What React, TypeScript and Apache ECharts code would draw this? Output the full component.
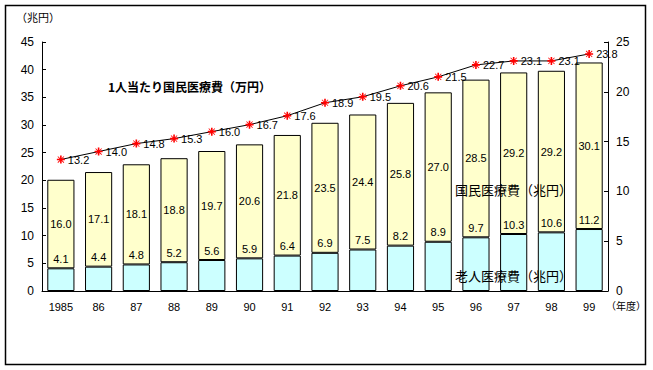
import React, { useEffect, useRef } from "react";
import * as echarts from "echarts";

const years = ["1985", "86", "87", "88", "89", "90", "91", "92", "93", "94", "95", "96", "97", "98", "99"];
const elderly = [4.1, 4.4, 4.8, 5.2, 5.6, 5.9, 6.4, 6.9, 7.5, 8.2, 8.9, 9.7, 10.3, 10.6, 11.2];
const national = [16.0, 17.1, 18.1, 18.8, 19.7, 20.6, 21.8, 23.5, 24.4, 25.8, 27.0, 28.5, 29.2, 29.2, 30.1];
const perCapita = [13.2, 14.0, 14.8, 15.3, 16.0, 16.7, 17.6, 18.9, 19.5, 20.6, 21.5, 22.7, 23.1, 23.1, 23.8];

const ASTERISK =
  "path://M0 4 L10 4 L10 6 L0 6 Z M4 0 L6 0 L6 10 L4 10 Z M1.5 0.8 L9.2 8.5 L8.5 9.2 L0.8 1.5 Z M8.5 0.8 L9.2 1.5 L1.5 9.2 L0.8 8.5 Z";

const NUM_FONT = "'Liberation Sans', Arial, sans-serif";
const JP_FONT = "'Noto Sans CJK JP', sans-serif";

export default function App() {
  const ref = useRef<HTMLDivElement>(null);
  useEffect(() => {
    document.body.style.margin = "0";
    const chart = echarts.init(ref.current!, null, { renderer: "svg" });
    const fmt = (p: any) => Number(p.value).toFixed(1);
    chart.setOption({
      animation: false,
      backgroundColor: "#fff",
      grid: { left: 42, right: 45, top: 42, bottom: 79 },
      xAxis: {
        type: "category",
        data: years,
        axisLine: { lineStyle: { color: "#000", width: 1 } },
        axisTick: { inside: true, length: 3, lineStyle: { color: "#000" } },
        axisLabel: { color: "#000", fontFamily: NUM_FONT, fontSize: 11, margin: 10 },
      },
      yAxis: [
        {
          type: "value",
          min: 0,
          max: 45,
          interval: 5,
          splitLine: { show: false },
          axisLine: { show: true, lineStyle: { color: "#000" } },
          axisTick: { show: true, inside: true, length: 4, lineStyle: { color: "#000" } },
          axisLabel: { color: "#000", fontFamily: NUM_FONT, fontSize: 12, margin: 8 },
        },
        {
          type: "value",
          min: 0,
          max: 25,
          interval: 5,
          position: "right",
          splitLine: { show: false },
          axisLine: { show: true, lineStyle: { color: "#000" } },
          axisTick: { show: true, inside: true, length: 4, lineStyle: { color: "#000" } },
          axisLabel: { color: "#000", fontFamily: NUM_FONT, fontSize: 12, margin: 8 },
        },
      ],
      series: [
        {
          name: "老人医療費",
          type: "bar",
          stack: "total",
          data: elderly,
          barCategoryGap: "28%",
          itemStyle: { color: "#CCFFFF", borderColor: "#000", borderWidth: 1 },
          label: {
            show: true,
            position: "top",
            distance: 4,
            formatter: fmt,
            color: "#000",
            fontFamily: NUM_FONT,
            fontSize: 11,
          },
        },
        {
          name: "国民医療費",
          type: "bar",
          stack: "total",
          data: national,
          itemStyle: { color: "#FFFFCC", borderColor: "#000", borderWidth: 1 },
          label: {
            show: true,
            position: "inside",
            formatter: fmt,
            color: "#000",
            fontFamily: NUM_FONT,
            fontSize: 11,
          },
        },
        {
          name: "1人当たり国民医療費",
          type: "line",
          yAxisIndex: 1,
          data: perCapita,
          symbol: ASTERISK,
          symbolSize: 8,
          itemStyle: { color: "#FF0000" },
          lineStyle: { color: "#000", width: 1 },
          label: {
            show: true,
            position: "right",
            distance: 3,
            formatter: fmt,
            color: "#000",
            fontFamily: NUM_FONT,
            fontSize: 11,
          },
          z: 5,
        },
      ],
      graphic: [
        {
          type: "rect",
          shape: { x: 5.5, y: 5.5, width: 640, height: 359 },
          style: { fill: "none", stroke: "#000", lineWidth: 1.5 },
          silent: true,
        },
        {
          type: "text",
          left: 16,
          top: 11,
          style: { text: "（兆円）", fill: "#000", font: `11px ${JP_FONT}` },
        },
        {
          type: "text",
          left: 606,
          top: 300,
          style: { text: "（年度）", fill: "#000", font: `10px ${JP_FONT}` },
        },
        {
          type: "text",
          left: 108,
          top: 80,
          style: { text: "1人当たり国民医療費（万円）", fill: "#000", font: `bold 12px ${JP_FONT}` },
        },
        {
          type: "text",
          left: 455,
          top: 183,
          z: 10,
          style: { text: "国民医療費（兆円）", fill: "#000", font: `13px ${JP_FONT}` },
        },
        {
          type: "text",
          left: 455,
          top: 269,
          z: 10,
          style: { text: "老人医療費（兆円）", fill: "#000", font: `13px ${JP_FONT}` },
        },
      ],
    });
    return () => chart.dispose();
  }, []);
  return <div ref={ref} style={{ width: 653, height: 370 }} />;
}
